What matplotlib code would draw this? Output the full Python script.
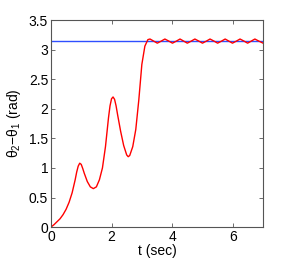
import matplotlib
matplotlib.use("Agg")
import matplotlib.pyplot as plt
import numpy as np

# phase difference theta2 - theta1 vs time
t_sec = [0.0, 0.1, 0.2, 0.3, 0.4, 0.5, 0.6, 0.7, 0.8, 0.85, 0.9, 0.95,
         1.0, 1.05, 1.1, 1.2, 1.3, 1.4, 1.5, 1.6, 1.7, 1.8, 1.9, 1.95,
         2.0, 2.05, 2.1, 2.15, 2.2, 2.3, 2.4, 2.5, 2.55, 2.6, 2.7, 2.8,
         2.9, 3.0, 3.1, 3.2, 3.27, 3.39, 3.51, 3.64, 3.76, 3.89, 4.01,
         4.14, 4.26, 4.38, 4.5, 4.63, 4.75, 4.88, 5.0, 5.13, 5.25, 5.38,
         5.5, 5.63, 5.75, 5.87, 5.99, 6.12, 6.24, 6.37, 6.49, 6.61, 6.73,
         6.86, 7.0]
dtheta = [0.0, 0.04, 0.09, 0.14, 0.21, 0.30, 0.42, 0.58, 0.80, 0.93, 1.03, 1.08,
          1.06, 0.99, 0.91, 0.77, 0.68, 0.65, 0.68, 0.80, 1.00, 1.36, 1.85, 2.05,
          2.17, 2.20, 2.16, 2.05, 1.90, 1.62, 1.38, 1.22, 1.19, 1.21, 1.36, 1.65,
          2.15, 2.75, 3.06, 3.17, 3.18, 3.145, 3.11, 3.145, 3.18, 3.145, 3.11,
          3.145, 3.18, 3.145, 3.11, 3.145, 3.18, 3.145, 3.11, 3.145, 3.18, 3.145,
          3.11, 3.145, 3.18, 3.145, 3.11, 3.145, 3.18, 3.145, 3.11, 3.145, 3.18,
          3.145, 3.11]
target = np.pi

xticks = [0, 2, 4, 6]
yticks = [0, 0.5, 1, 1.5, 2, 2.5, 3, 3.5]

plt.rcParams["font.family"] = ["Liberation Sans", "DejaVu Sans"]
plt.rcParams["mathtext.fontset"] = "custom"
plt.rcParams["mathtext.rm"] = "Liberation Sans"

fig = plt.figure(figsize=(2.91, 2.61), dpi=100)
ax = fig.add_axes([0.175, 0.130, 0.729, 0.793])

ax.axhline(target, color="#2f4fff", linewidth=1.0)
ax.plot(t_sec, dtheta, color="#ff0000", linewidth=1.0)

ax.set_xlim(0, 7)
ax.set_ylim(0, 3.5)
ax.set_xticks(xticks)
ax.set_yticks(yticks)
ax.set_yticklabels(["0", "0.5", "1", "1.5", "2", "2.5", "3", "3.5"])
ax.tick_params(direction="in", top=True, right=True, length=3, width=0.6,
               labelsize=10, color="#555555", pad=2)
for s in ax.spines.values():
    s.set_color("#555555")
    s.set_linewidth(0.8)

ax.set_xlabel("t (sec)", fontsize=10, labelpad=0)
ax.set_ylabel("θ$_2$−θ$_1$ (rad)", fontsize=10, labelpad=4)

fig.savefig("out.png", dpi=100)
